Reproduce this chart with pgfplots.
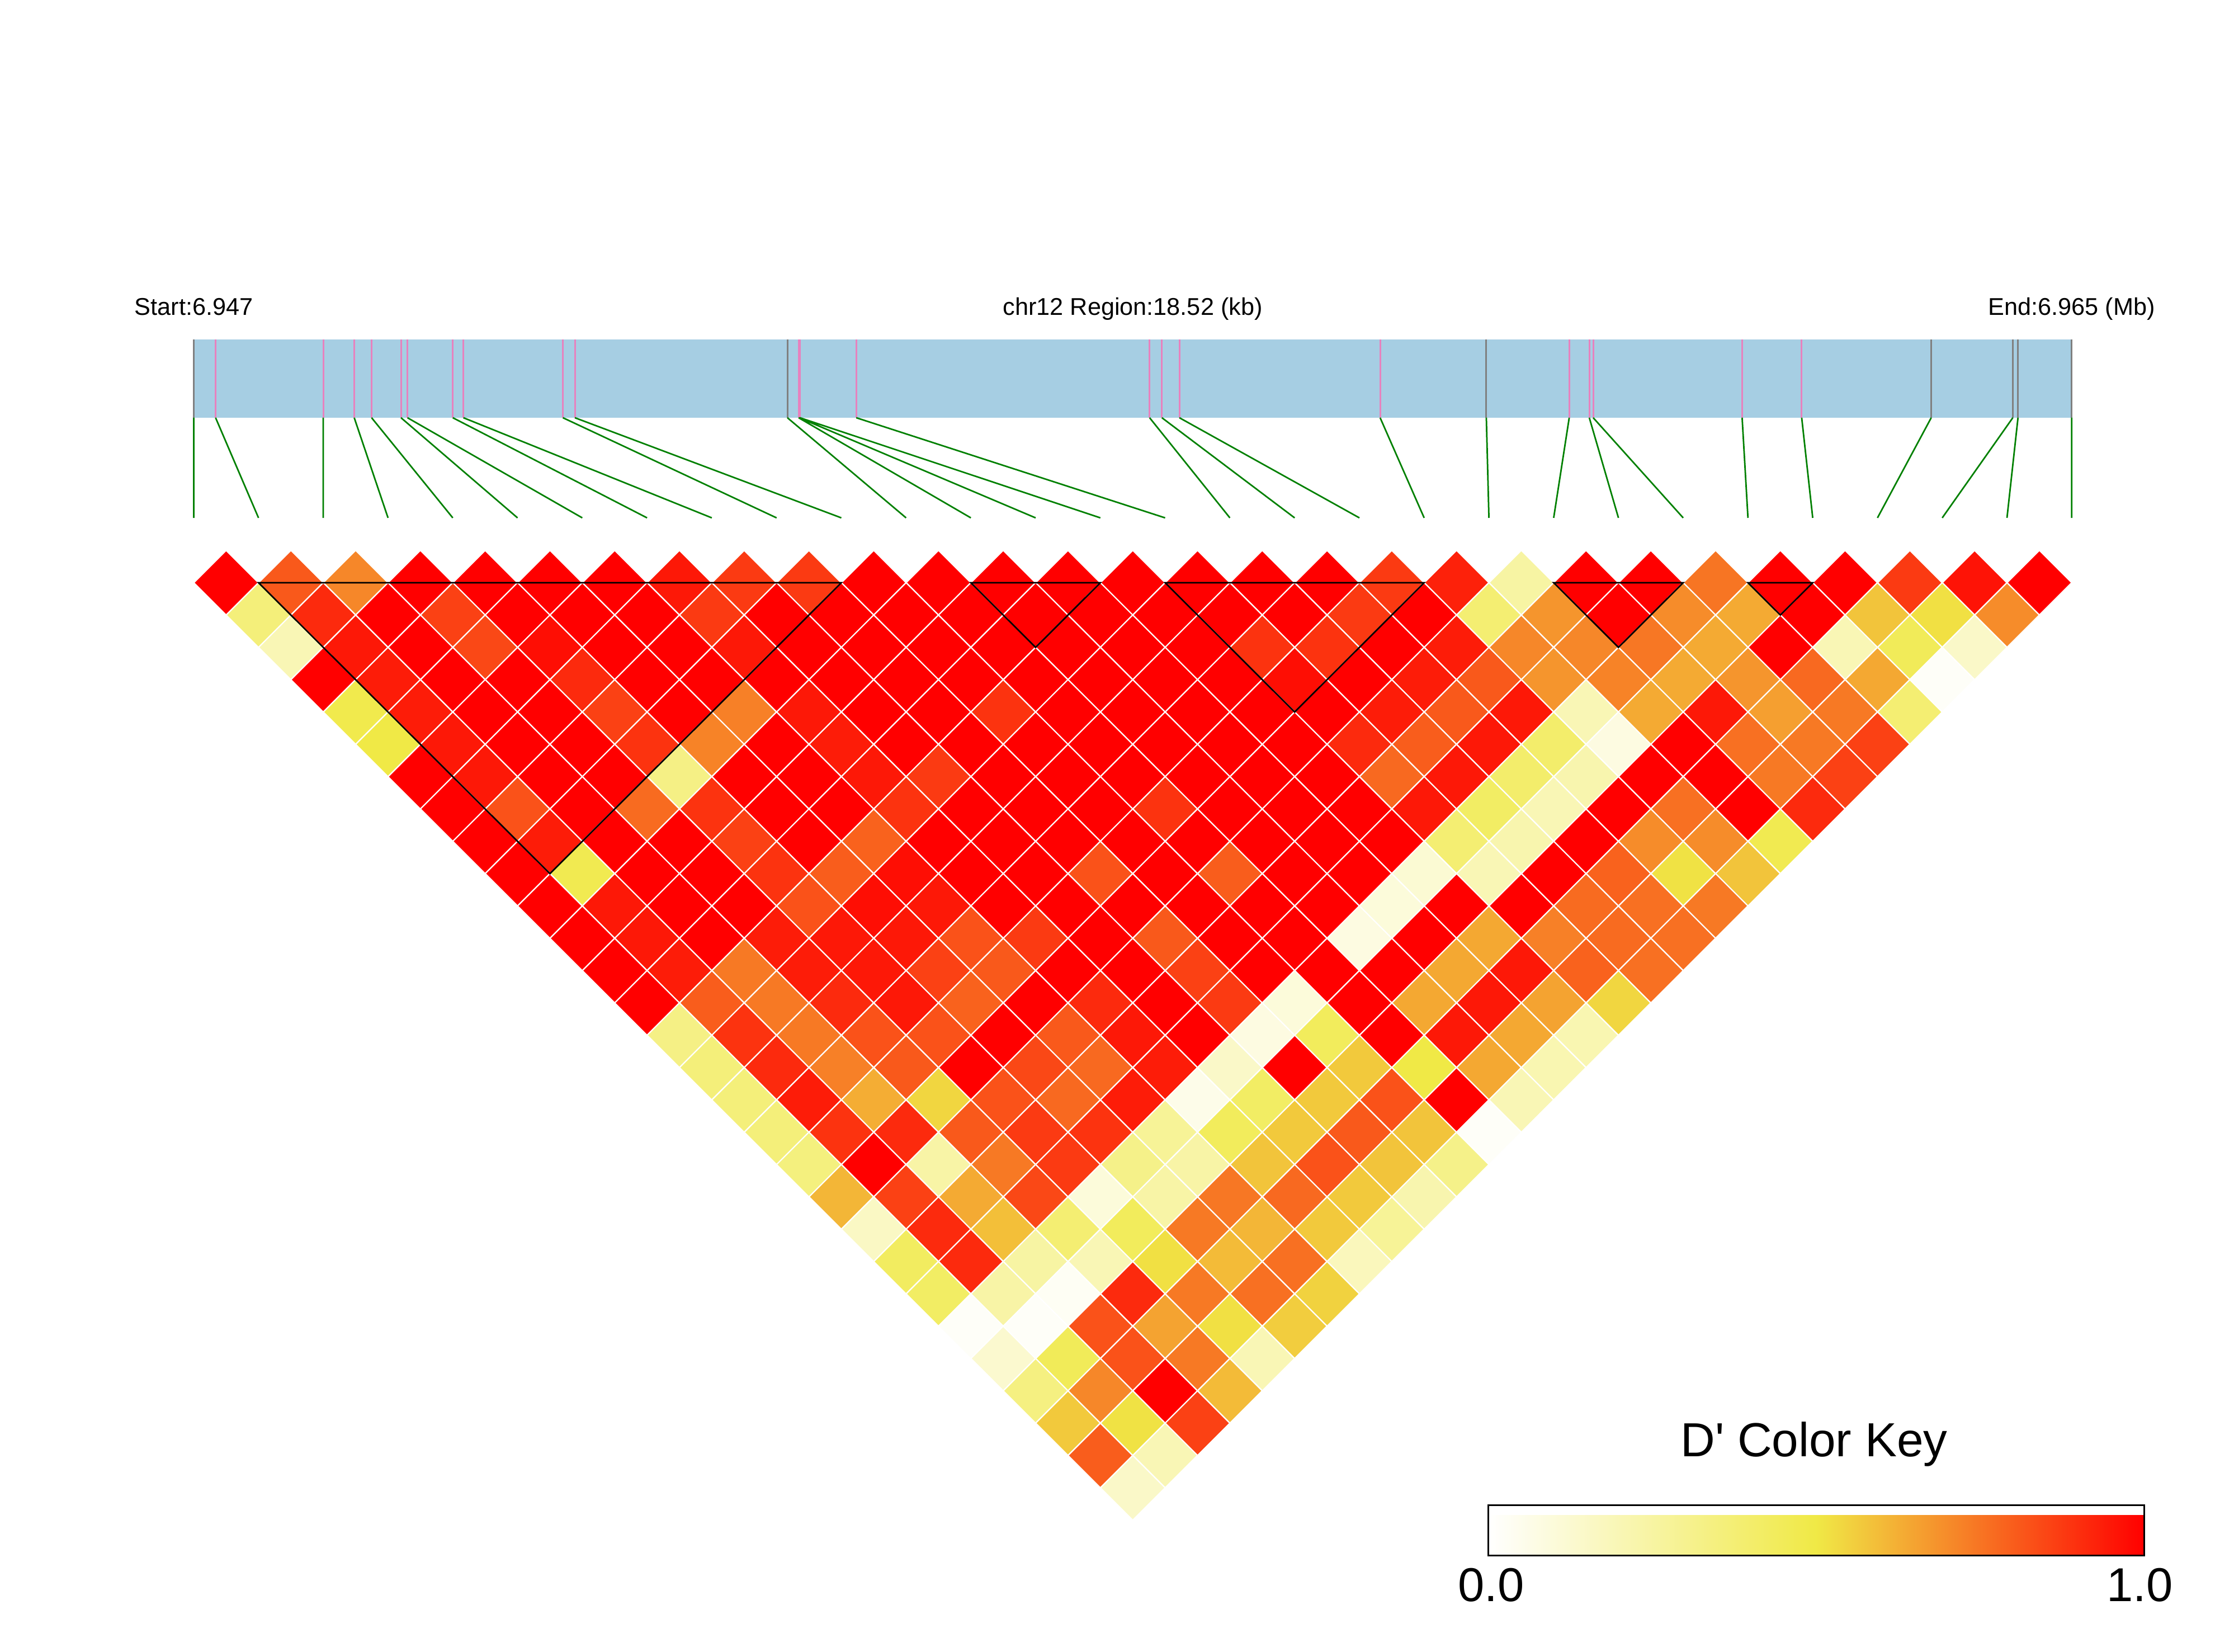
\documentclass[border=0pt]{standalone}
\usepackage{fontspec}
\setmainfont{Liberation Sans}
\usepackage{pgfplots}
\pgfplotsset{compat=1.18}
\pgfdeclareplotmark{dsq}{%
  \pgfpathmoveto{\pgfqpoint{0pt}{\pgfplotmarksize}}%
  \pgfpathlineto{\pgfqpoint{\pgfplotmarksize}{0pt}}%
  \pgfpathlineto{\pgfqpoint{0pt}{-\pgfplotmarksize}}%
  \pgfpathlineto{\pgfqpoint{-\pgfplotmarksize}{0pt}}%
  \pgfpathclose\pgfusepathqfillstroke}
\definecolor{genebar}{RGB}{166,206,227}
\definecolor{snppink}{RGB}{231,130,190}
\definecolor{snpgrey}{RGB}{128,128,128}
\definecolor{linkgreen}{RGB}{0,128,0}
\begin{document}
\begin{tikzpicture}
\useasboundingbox (0,0) rectangle (799pt,590.6pt);
\begin{axis}[
  at={(0pt,0pt)},anchor=south west,
  scale only axis,width=799pt,height=590.6pt,
  xmin=-2.992,xmax=31.506,ymin=-16.531,ymax=9.014,
  axis line style={draw=none},ticks=none,clip=false,clip marker paths=true,
  colormap={ld}{rgb255(0cm)=(255,255,255); rgb255(1cm)=(240,233,70); rgb255(2cm)=(255,0,0)},
  point meta min=0,point meta max=1,
  colorbar horizontal,
  colorbar style={
    at={(0.6662,0.05825)},anchor=south west,
    scale only axis,width=234.5pt,height=18pt,
    xtick={0.0044,0.9935},xticklabels={0.0,1.0},
    major tick length=0pt,
    xticklabel style={font=\fontsize{17}{20}\selectfont,yshift=-1pt},
    axis line style={draw=black,line width=0.6pt},
  },
]
% genome bar
\addplot[fill=genebar,draw=none,forget plot] coordinates {(0,3.763)(29,3.763)(29,2.552)(0,2.552)} -- cycle;
% pink SNP positions
\addplot[snppink,line width=0.6pt,unbounded coords=jump,forget plot] coordinates {
(0.337,3.763)(0.337,2.552)(nan,nan)(2.0,3.763)(2.0,2.552)(nan,nan)(2.478,3.763)(2.478,2.552)(nan,nan)
(2.746,3.763)(2.746,2.552)(nan,nan)(3.2,3.763)(3.2,2.552)(nan,nan)(3.30,3.763)(3.30,2.552)(nan,nan)
(4.0,3.763)(4.0,2.552)(nan,nan)(4.164,3.763)(4.164,2.552)(nan,nan)(5.70,3.763)(5.70,2.552)(nan,nan)
(5.885,3.763)(5.885,2.552)(nan,nan)(9.34,3.763)(9.34,2.552)(nan,nan)(9.35,3.763)(9.35,2.552)(nan,nan)
(9.36,3.763)(9.36,2.552)(nan,nan)(10.23,3.763)(10.23,2.552)(nan,nan)(14.76,3.763)(14.76,2.552)(nan,nan)
(14.95,3.763)(14.95,2.552)(nan,nan)(15.22,3.763)(15.22,2.552)(nan,nan)(18.32,3.763)(18.32,2.552)(nan,nan)
(21.24,3.763)(21.24,2.552)(nan,nan)(21.55,3.763)(21.55,2.552)(nan,nan)(21.61,3.763)(21.61,2.552)(nan,nan)
(23.91,3.763)(23.91,2.552)(nan,nan)(24.83,3.763)(24.83,2.552)
};
% grey SNP positions
\addplot[snpgrey,line width=0.6pt,unbounded coords=jump,forget plot] coordinates {
(0,3.763)(0,2.552)(nan,nan)(9.167,3.763)(9.167,2.552)(nan,nan)(19.96,3.763)(19.96,2.552)(nan,nan)
(26.83,3.763)(26.83,2.552)(nan,nan)(28.09,3.763)(28.09,2.552)(nan,nan)(28.17,3.763)(28.17,2.552)(nan,nan)
(29,3.763)(29,2.552)
};
% links from position to marker
\addplot[linkgreen,line width=0.55pt,unbounded coords=jump,forget plot] coordinates {
(0,2.552)(0,1.003)(nan,nan)(0.337,2.552)(1,1.003)(nan,nan)(2.0,2.552)(2,1.003)(nan,nan)
(2.478,2.552)(3,1.003)(nan,nan)(2.746,2.552)(4,1.003)(nan,nan)(3.2,2.552)(5,1.003)(nan,nan)
(3.30,2.552)(6,1.003)(nan,nan)(4.0,2.552)(7,1.003)(nan,nan)(4.164,2.552)(8,1.003)(nan,nan)
(5.70,2.552)(9,1.003)(nan,nan)(5.885,2.552)(10,1.003)(nan,nan)(9.167,2.552)(11,1.003)(nan,nan)
(9.34,2.552)(12,1.003)(nan,nan)(9.35,2.552)(13,1.003)(nan,nan)(9.36,2.552)(14,1.003)(nan,nan)
(10.23,2.552)(15,1.003)(nan,nan)(14.76,2.552)(16,1.003)(nan,nan)(14.95,2.552)(17,1.003)(nan,nan)
(15.22,2.552)(18,1.003)(nan,nan)(18.32,2.552)(19,1.003)(nan,nan)(19.96,2.552)(20,1.003)(nan,nan)
(21.24,2.552)(21,1.003)(nan,nan)(21.55,2.552)(22,1.003)(nan,nan)(21.61,2.552)(23,1.003)(nan,nan)
(23.91,2.552)(24,1.003)(nan,nan)(24.83,2.552)(25,1.003)(nan,nan)(26.83,2.552)(26,1.003)(nan,nan)
(28.09,2.552)(27,1.003)(nan,nan)(28.17,2.552)(28,1.003)(nan,nan)(29,2.552)(29,1.003)
};
% D' cells
\addplot[scatter,only marks,mark=dsq,mark size=11.58pt,point meta=explicit,line width=0.45pt,
  scatter/use mapped color={draw=white,fill=mapped color},forget plot] coordinates {
(0.5,0)[1](1.5,0)[.81](2.5,0)[.71](3.5,0)[1](4.5,0)[1](5.5,0)[1](6.5,0)[1](7.5,0)[.95](8.5,0)[.875](9.5,0)[.875](10.5,0)[1](11.5,0)[1](12.5,0)[1](13.5,0)[1](14.5,0)[1](15.5,0)[1](16.5,0)[1](17.5,0)[1](18.5,0)[.875](19.5,0)[.93](20.5,0)[.25](21.5,0)[1](22.5,0)[1](23.5,0)[.75](24.5,0)[1](25.5,0)[1](26.5,0)[.875](27.5,0)[.96](28.5,0)[1]
(1,-.5)[.36](2,-.5)[.91](3,-.5)[1](4,-.5)[.86](5,-.5)[1](6,-.5)[1](7,-.5)[1](8,-.5)[.875](9,-.5)[1](10,-.5)[1](11,-.5)[1](12,-.5)[1](13,-.5)[1](14,-.5)[1](15,-.5)[1](16,-.5)[1](17,-.5)[1](18,-.5)[.875](19,-.5)[1](20,-.5)[.38](21,-.5)[.68](22,-.5)[1](23,-.5)[.70](24,-.5)[.635](25,-.5)[1](26,-.5)[.58](27,-.5)[.52](28,-.5)[.70]
(1.5,-1)[.2](2.5,-1)[.95](3.5,-1)[1](4.5,-1)[.845](5.5,-1)[.97](6.5,-1)[1](7.5,-1)[1](8.5,-1)[.95](9.5,-1)[1](10.5,-1)[1](11.5,-1)[1](12.5,-1)[1](13.5,-1)[1](14.5,-1)[1](15.5,-1)[1](16.5,-1)[.89](17.5,-1)[.89](18.5,-1)[1](19.5,-1)[.94](20.5,-1)[.71](21.5,-1)[.71](22.5,-1)[.745](23.5,-1)[.635](24.5,-1)[1](25.5,-1)[.2](26.5,-1)[.45](27.5,-1)[.15]
(2,-1.5)[1](3,-1.5)[.94](4,-1.5)[1](5,-1.5)[1](6,-1.5)[.91](7,-1.5)[1](8,-1.5)[1](9,-1.5)[1](10,-1.5)[1](11,-1.5)[1](12,-1.5)[1](13,-1.5)[1](14,-1.5)[1](15,-1.5)[1](16,-1.5)[1](17,-1.5)[.97](18,-1.5)[1](19,-1.5)[.94](20,-1.5)[.81](21,-1.5)[.68](22,-1.5)[.72](23,-1.5)[.635](24,-1.5)[.68](25,-1.5)[.775](26,-1.5)[.64](27,-1.5)[.02]
(2.5,-2)[.48](3.5,-2)[.94](4.5,-2)[1](5.5,-2)[1](6.5,-2)[.86](7.5,-2)[1](8.5,-2)[.725](9.5,-2)[.95](10.5,-2)[1](11.5,-2)[1](12.5,-2)[.89](13.5,-2)[1](14.5,-2)[1](15.5,-2)[1](16.5,-2)[1](17.5,-2)[1](18.5,-2)[.94](19.5,-2)[.81](20.5,-2)[.95](21.5,-2)[.2](22.5,-2)[.635](23.5,-2)[.95](24.5,-2)[.66](25.5,-2)[.74](26.5,-2)[.38]
(3,-2.5)[.5](4,-2.5)[.95](5,-2.5)[1](6,-2.5)[1](7,-2.5)[.89](8,-2.5)[.72](9,-2.5)[1](10,-2.5)[.94](11,-2.5)[1](12,-2.5)[1](13,-2.5)[1](14,-2.5)[1](15,-2.5)[1](16,-2.5)[1](17,-2.5)[1](18,-2.5)[.91](19,-2.5)[.80](20,-2.5)[.95](21,-2.5)[.4](22,-2.5)[.08](23,-2.5)[1](24,-2.5)[.76](25,-2.5)[.74](26,-2.5)[.86]
(3.5,-3)[1](4.5,-3)[.95](5.5,-3)[1](6.5,-3)[1](7.5,-3)[.33](8.5,-3)[1](9.5,-3)[1](10.5,-3)[.95](11.5,-3)[.875](12.5,-3)[1](13.5,-3)[1](14.5,-3)[1](15.5,-3)[1](16.5,-3)[1](17.5,-3)[1](18.5,-3)[.775](19.5,-3)[.95](20.5,-3)[.4](21.5,-3)[.22](22.5,-3)[1](23.5,-3)[1](24.5,-3)[.74](25.5,-3)[.86]
(4,-3.5)[1](5,-3.5)[.825](6,-3.5)[1](7,-3.5)[.77](8,-3.5)[.89](9,-3.5)[1](10,-3.5)[1](11,-3.5)[.89](12,-3.5)[1](13,-3.5)[1](14,-3.5)[1](15,-3.5)[.89](16,-3.5)[1](17,-3.5)[1](18,-3.5)[1](19,-3.5)[.95](20,-3.5)[.42](21,-3.5)[.2](22,-3.5)[1](23,-3.5)[.76](24,-3.5)[1](25,-3.5)[.91]
(4.5,-4)[1](5.5,-4)[.94](6.5,-4)[1](7.5,-4)[1](8.5,-4)[.86](9.5,-4)[1](10.5,-4)[.79](11.5,-4)[1](12.5,-4)[1](13.5,-4)[1](14.5,-4)[1](15.5,-4)[1](16.5,-4)[1](17.5,-4)[1](18.5,-4)[1](19.5,-4)[.38](20.5,-4)[.22](21.5,-4)[1](22.5,-4)[.70](23.5,-4)[.70](24.5,-4)[.47]
(5,-4.5)[1](6,-4.5)[.47](7,-4.5)[1](8,-4.5)[1](9,-4.5)[.89](10,-4.5)[.80](11,-4.5)[.97](12,-4.5)[1](13,-4.5)[1](14,-4.5)[.825](15,-4.5)[1](16,-4.5)[.80](17,-4.5)[1](18,-4.5)[1](19,-4.5)[.12](20,-4.5)[.2](21,-4.5)[1](22,-4.5)[.79](23,-4.5)[.515](24,-4.5)[.58]
(5.5,-5)[1](6.5,-5)[.95](7.5,-5)[1](8.5,-5)[1](9.5,-5)[.825](10.5,-5)[.97](11.5,-5)[.95](12.5,-5)[1](13.5,-5)[1](14.5,-5)[1](15.5,-5)[1](16.5,-5)[1](17.5,-5)[1](18.5,-5)[.1](19.5,-5)[1](20.5,-5)[1](21.5,-5)[.77](22.5,-5)[.76](23.5,-5)[.74]
(6,-5.5)[1](7,-5.5)[.95](8,-5.5)[1](9,-5.5)[.94](10,-5.5)[.95](11,-5.5)[.95](12,-5.5)[.825](13,-5.5)[.875](14,-5.5)[1](15,-5.5)[.81](16,-5.5)[1](17,-5.5)[1](18,-5.5)[.08](19,-5.5)[1](20,-5.5)[.64](21,-5.5)[.725](22,-5.5)[.77](23,-5.5)[.76]
(6.5,-6)[1](7.5,-6)[.94](8.5,-6)[.74](9.5,-6)[.94](10.5,-6)[.95](11.5,-6)[.86](12.5,-6)[.81](13.5,-6)[1](14.5,-6)[1](15.5,-6)[.86](16.5,-6)[1](17.5,-6)[1](18.5,-6)[1](19.5,-6)[.64](20.5,-6)[.95](21.5,-6)[.79](22.5,-6)[.76]
(7,-6.5)[1](8,-6.5)[.80](9,-6.5)[.74](10,-6.5)[.91](11,-6.5)[.95](12,-6.5)[.79](13,-6.5)[1](14,-6.5)[.91](15,-6.5)[1](16,-6.5)[.875](17,-6.5)[.1](18,-6.5)[1](19,-6.5)[.64](20,-6.5)[.95](21,-6.5)[.65](22,-6.5)[.54]
(7.5,-7)[.33](8.5,-7)[.89](9.5,-7)[.74](10.5,-7)[.825](11.5,-7)[.825](12.5,-7)[1](13.5,-7)[.81](14.5,-7)[.95](15.5,-7)[1](16.5,-7)[.08](17.5,-7)[.44](18.5,-7)[1](19.5,-7)[.95](20.5,-7)[.64](21.5,-7)[.21]
(8,-7.5)[.36](9,-7.5)[.91](10,-7.5)[.725](11,-7.5)[.81](12,-7.5)[1](13,-7.5)[.845](14,-7.5)[.775](15,-7.5)[.94](16,-7.5)[.15](17,-7.5)[1](18,-7.5)[.57](19,-7.5)[.5](20,-7.5)[.64](21,-7.5)[.21]
(8.5,-8)[.36](9.5,-8)[.94](10.5,-8)[.63](11.5,-8)[.54](12.5,-8)[.825](13.5,-8)[.775](14.5,-8)[.94](15.5,-8)[.06](16.5,-8)[.42](17.5,-8)[.57](18.5,-8)[.825](19.5,-8)[1](20.5,-8)[.2]
(9,-8.5)[.36](10,-8.5)[.89](11,-8.5)[.91](12,-8.5)[.81](13,-8.5)[.875](14,-8.5)[.89](15,-8.5)[.28](16,-8.5)[.44](17,-8.5)[.57](18,-8.5)[.81](19,-8.5)[.58](20,-8.5)[.02]
(9.5,-9)[.35](10.5,-9)[1](11.5,-9)[.24](12.5,-9)[.74](13.5,-9)[.875](14.5,-9)[.32](15.5,-9)[.24](16.5,-9)[.58](17.5,-9)[.825](18.5,-9)[.58](19.5,-9)[.32]
(10,-9.5)[.61](11,-9.5)[.86](12,-9.5)[.635](13,-9.5)[.845](14,-9.5)[.1](15,-9.5)[.24](16,-9.5)[.745](17,-9.5)[.775](18,-9.5)[.57](19,-9.5)[.22]
(10.5,-10)[.16](11.5,-10)[.91](12.5,-10)[.59](13.5,-10)[.38](14.5,-10)[.44](15.5,-10)[.74](16.5,-10)[.61](17.5,-10)[.57](18.5,-10)[.28]
(11,-10.5)[.43](12,-10.5)[.91](13,-10.5)[.25](14,-10.5)[.2](15,-10.5)[.52](16,-10.5)[.60](17,-10.5)[.76](18,-10.5)[.18]
(11.5,-11)[.42](12.5,-11)[.24](13.5,-11)[.03](14.5,-11)[.91](15.5,-11)[.74](16.5,-11)[.76](17.5,-11)[.55]
(12,-11.5)[.02](13,-11.5)[.02](14,-11.5)[.825](15,-11.5)[.65](16,-11.5)[.52](17,-11.5)[.56]
(12.5,-12)[.13](13.5,-12)[.45](14.5,-12)[.825](15.5,-12)[.74](16.5,-12)[.2]
(13,-12.5)[.34](14,-12.5)[.71](15,-12.5)[1](16,-12.5)[.60]
(13.5,-13)[.57](14.5,-13)[.515](15.5,-13)[.86]
(14,-13.5)[.80](15,-13.5)[.2]
(14.5,-14)[.15]
};
% haplotype blocks
\addplot[black,line width=0.55pt,forget plot] coordinates {(1,0)(10,0)(5.5,-4.5)} -- cycle;
\addplot[black,line width=0.55pt,forget plot] coordinates {(12,0)(14,0)(13,-1)} -- cycle;
\addplot[black,line width=0.55pt,forget plot] coordinates {(15,0)(19,0)(17,-2)} -- cycle;
\addplot[black,line width=0.55pt,forget plot] coordinates {(21,0)(23,0)(22,-1)} -- cycle;
\addplot[black,line width=0.55pt,forget plot] coordinates {(24,0)(25,0)(24.5,-0.5)} -- cycle;
\node[anchor=base,font=\fontsize{8.65}{10}\selectfont] at (axis cs:0,4.135) {Start:6.947};
\node[anchor=base,font=\fontsize{8.65}{10}\selectfont] at (axis cs:14.5,4.135) {chr12 Region:18.52 (kb)};
\node[anchor=base,font=\fontsize{8.65}{10}\selectfont] at (axis cs:29,4.135) {End:6.965 (Mb)};
\node[anchor=base,font=\fontsize{17.1}{20}\selectfont] at (axis cs:25.02,-13.52) {D\textquotesingle{} Color Key};
\end{axis}
\end{tikzpicture}
\end{document}
